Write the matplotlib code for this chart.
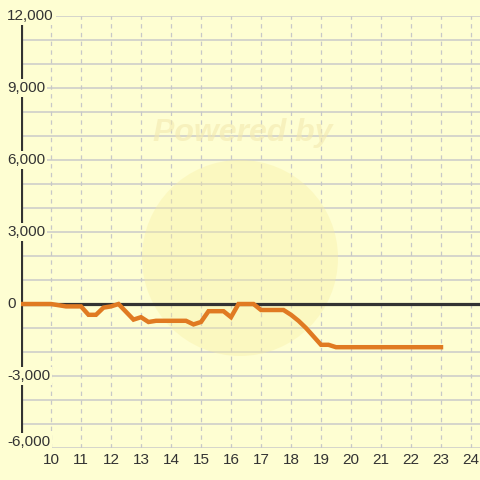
import matplotlib
matplotlib.use("Agg")
import matplotlib.pyplot as plt
from matplotlib.patches import Circle

# hours and cumulative value
hours = [9.0, 10.0, 10.5, 11.0, 11.25, 11.5, 11.75, 12.0, 12.25, 12.75, 13.0,
         13.25, 13.5, 14.5, 14.75, 15.0, 15.25, 15.75, 16.0, 16.25, 16.75,
         17.0, 17.75, 18.0, 18.25, 18.5, 19.0, 19.25, 19.5, 23.0]
values = [0, 0, -100, -100, -450, -450, -150, -100, 0, -650, -550,
          -750, -700, -700, -850, -750, -300, -300, -550, 0, 0,
          -250, -250, -450, -700, -1000, -1700, -1700, -1800, -1800]

xticks = list(range(10, 25))
yticks = [-6000, -3000, 0, 3000, 6000, 9000, 12000]
ylabels = ['-6,000', '-3,000', '0', '3,000', '6,000', '9,000', '12,000']

bg = '#fefed2'
plt.rcParams['font.family'] = ['Liberation Sans', 'DejaVu Sans']

fig = plt.figure(figsize=(4.8, 4.8), dpi=100, facecolor=bg)
ax = fig.add_axes([21 / 480, 32 / 480, 1 - 21 / 480, 432 / 480])
ax.set_facecolor(bg)
ax.set_xlim(9.0, 24.3)
ax.set_ylim(-6000, 12000)

for s in ax.spines.values():
    s.set_visible(False)

# grid
for y in range(-6000, 12001, 1000):
    ax.axhline(y, color='#cacaca', lw=1.1, zorder=1)
for x in xticks:
    ax.axvline(x, color='#c8c8c8', lw=0.9, ls=(0, (3.5, 3.5)), zorder=1)

# watermark
ax.add_patch(Circle((240, 480 - 258), 98, transform=None, facecolor='#f8eda0',
                    alpha=0.35, edgecolor='none', zorder=1.5))
fig.text(243 / 480, 1 - 133 / 480, 'Powered by', fontsize=23, fontweight='bold',
         style='italic', color='#f3e9b0', alpha=0.6, ha='center', va='center')

ax.axhline(0, color='#333333', lw=2.3, zorder=2)
ax.axvline(9.0, color='#333333', lw=3, zorder=2)

ax.plot(hours, values, color='#e07a22', lw=3.2, zorder=3,
        solid_joinstyle='miter')

ax.set_xticks([])
ax.set_yticks([])
for x in xticks:
    ax.text(x, -6000 - 220, str(x), ha='center', va='top',
            fontsize=11, color='#333333', clip_on=False)
for y, lab in zip(yticks, ylabels):
    yy = y if y > -6000 else -5750
    ax.text(9.0 - 14 / 30, yy, lab, ha='left', va='center', fontsize=11,
            color='#333333', zorder=4,
            bbox=dict(facecolor=bg, edgecolor='none', pad=1.5))

fig.savefig('out.png', dpi=100, facecolor=bg)
